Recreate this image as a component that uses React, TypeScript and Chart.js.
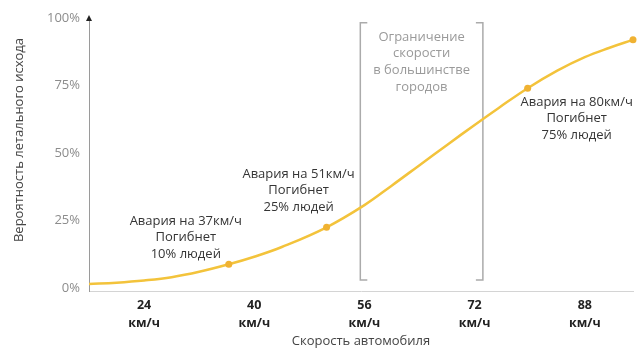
import React, { useEffect, useRef } from "react";
import { Chart, registerables } from "chart.js";

Chart.register(...registerables);

// ---- data ----
const speeds = [16, 20, 24, 28, 32, 36.3, 40, 44, 50.5, 56, 60, 64, 68, 72, 75.5, 79.7, 84, 88, 91.5, 95];
const fatality = [1.5, 2, 2.8, 4, 6, 8.8, 11.6, 15.2, 22.5, 30.7, 38, 45.5, 53, 60.4, 66.7, 74, 80.5, 85.5, 88.9, 91.9];
const markedSpeeds = [36.3, 50.5, 79.7, 95];
const xTicks = [24, 40, 56, 72, 88];
const yTicks = [0, 25, 50, 75, 100];
const tickUnit = "км/ч";
const xTitle = "Скорость автомобиля";
const yTitle = "Вероятность летального исхода";
const noteSpeeds = [36.3, 50.5, 79.7];
const noteLines = [
  ["Авария на 37км/ч", "Погибнет", "10% людей"],
  ["Авария на 51км/ч", "Погибнет", "25% людей"],
  ["Авария на 80км/ч", "Погибнет", "75% людей"],
];
const limitRange = [55.4, 73.2];
const limitSpan = [3, 98.2];
const limitLines = ["Ограничение", "скорости", "в большинстве", "городов"];

// ---- styles ----
const FONT = "'Open Sans', 'Noto Sans', sans-serif";
const noteOffsets = [
  { dx: -43, dy: -43 },
  { dx: -28, dy: -53 },
  { dx: 49, dy: 14 },
];

const overlay = {
  id: "overlay",
  beforeDatasetsDraw(chart: any) {
    const { ctx, scales } = chart;
    const x = scales.x, y = scales.y;
    const xl = x.getPixelForValue(limitRange[0]);
    const xr = x.getPixelForValue(limitRange[1]);
    const yb = y.getPixelForValue(limitSpan[0]);
    const yt = y.getPixelForValue(limitSpan[1]);
    ctx.save();
    ctx.strokeStyle = "#ababab";
    ctx.lineWidth = 1.5;
    ctx.beginPath();
    ctx.moveTo(xl + 7, yt);
    ctx.lineTo(xl, yt);
    ctx.lineTo(xl, yb);
    ctx.lineTo(xl + 7, yb);
    ctx.moveTo(xr - 7, yt);
    ctx.lineTo(xr, yt);
    ctx.lineTo(xr, yb);
    ctx.lineTo(xr - 7, yb);
    ctx.stroke();
    ctx.fillStyle = "#9a9a9a";
    ctx.font = `13px ${FONT}`;
    ctx.textAlign = "center";
    ctx.textBaseline = "middle";
    limitLines.forEach((t, i) => ctx.fillText(t, (xl + xr) / 2, yt + 14 + i * 16.7));
    ctx.restore();
  },
  afterDraw(chart: any) {
    const { ctx, chartArea, scales } = chart;
    const x = scales.x, y = scales.y;
    ctx.save();
    // arrow
    const ax = chartArea.left;
    ctx.fillStyle = "#222";
    ctx.beginPath();
    ctx.moveTo(ax, chartArea.top - 3);
    ctx.lineTo(ax - 3, chartArea.top + 3);
    ctx.lineTo(ax + 3, chartArea.top + 3);
    ctx.closePath();
    ctx.fill();
    // y title
    ctx.save();
    ctx.translate(19, chartArea.top + 122);
    ctx.rotate(-Math.PI / 2);
    ctx.fillStyle = "#444";
    ctx.font = `13px ${FONT}`;
    ctx.textAlign = "center";
    ctx.textBaseline = "middle";
    ctx.fillText(yTitle, 0, 0);
    ctx.restore();
    // notes
    ctx.fillStyle = "#353535";
    ctx.font = `13px ${FONT}`;
    ctx.textAlign = "center";
    ctx.textBaseline = "middle";
    noteSpeeds.forEach((s, i) => {
      const idx = speeds.indexOf(s);
      const px = x.getPixelForValue(s);
      const py = y.getPixelForValue(fatality[idx]);
      const o = noteOffsets[i];
      noteLines[i].forEach((t, j) => ctx.fillText(t, px + o.dx, py + o.dy + j * 16.5));
    });
    ctx.restore();
  },
};

export default function App() {
  const ref = useRef<HTMLCanvasElement>(null);
  useEffect(() => {
    if (!ref.current) return;
    const chart = new Chart(ref.current, {
      type: "line",
      data: {
        datasets: [
          {
            data: speeds.map((s, i) => ({ x: s, y: fatality[i] })),
            borderColor: "#F3C33B",
            borderWidth: 2.5,
            tension: 0.4,
            pointRadius: speeds.map((s) => (markedSpeeds.includes(s) ? 3.5 : 0)),
            pointBackgroundColor: "#F0B232",
            pointBorderWidth: 0,
            clip: false as any,
          },
        ],
      },
      options: {
        animation: false,
        responsive: false,
        devicePixelRatio: 1,
        layout: { padding: { top: 18, right: 2, left: 0, bottom: 0 } },
        plugins: { legend: { display: false }, tooltip: { enabled: false } },
        scales: {
          x: {
            type: "linear",
            min: 16,
            max: 95,
            afterBuildTicks: (s: any) => {
              s.ticks = xTicks.map((v) => ({ value: v }));
            },
            afterFit: (s: any) => {
              s.height = 62;
            },
            ticks: {
              callback: (v: any) => [String(v), tickUnit],
              font: { family: FONT, size: 12.5, weight: "bold", lineHeight: 1.45 },
              color: "#222",
              padding: 5,
              maxRotation: 0,
              autoSkip: false,
            },
            grid: { display: true, color: "transparent", drawTicks: false },
            border: { color: "#d4d4d4", width: 1 },
            title: {
              display: true,
              text: xTitle,
              color: "#444",
              font: { family: FONT, size: 13 },
              padding: { top: 0, bottom: 4 },
            },
          },
          y: {
            type: "linear",
            min: -1.1,
            max: 100,
            afterBuildTicks: (s: any) => {
              s.ticks = yTicks.map((v) => ({ value: v }));
            },
            afterFit: (s: any) => {
              s.width = 89;
            },
            ticks: {
              callback: (v: any) => `${v}%`,
              font: { family: FONT, size: 13 },
              color: "#8c8c8c",
              padding: 9,
            },
            grid: { display: true, color: "transparent", drawTicks: false },
            border: { color: "#9a9a9a", width: 1 },
          },
        },
      },
      plugins: [overlay],
    } as any);
    return () => chart.destroy();
  }, []);
  return (
    <div style={{ position: "absolute", left: 0, top: 0, width: 637, height: 353, background: "#fff" }}>
      <canvas ref={ref} width={637} height={353} />
    </div>
  );
}
